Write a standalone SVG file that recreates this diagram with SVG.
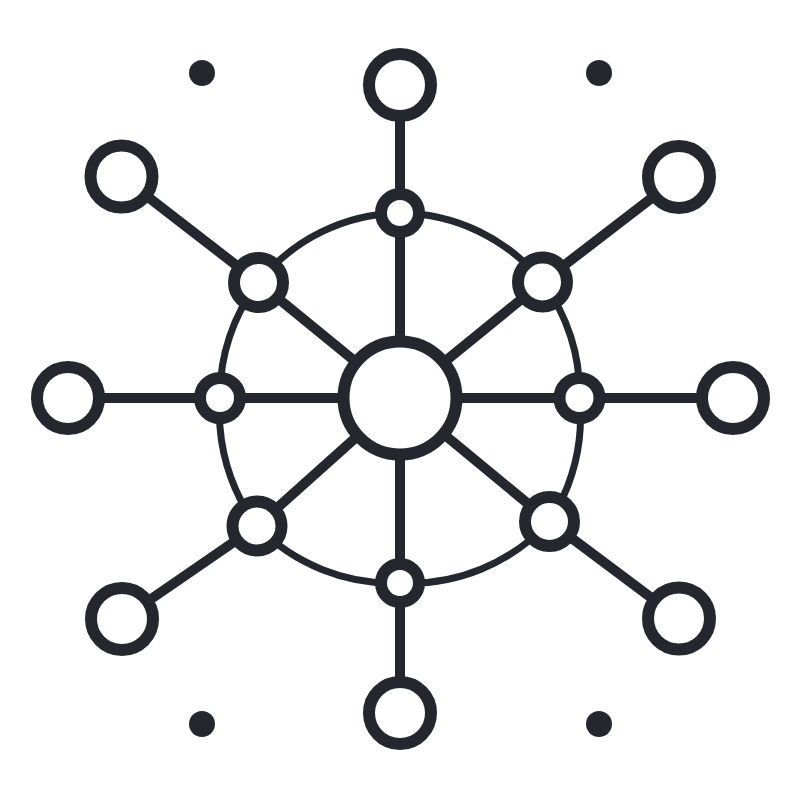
<svg xmlns="http://www.w3.org/2000/svg" width="800" height="800" viewBox="0 0 800 800">
<style>
.ln{stroke:#24272e;stroke-width:10;fill:none}
.ring{stroke:#24272e;stroke-width:7;fill:none}
.nd{fill:#fff;stroke:#24272e;stroke-width:12}
.dot{fill:#24272e}
</style>
<rect width="800" height="800" fill="#fff"/>
<g id="connectors">
<path class="ring" d="M400,213 A185,185 0 0 1 542.5,282 A185,185 0 0 1 579.5,398 A190,190 0 0 1 549.5,521.5 A190,190 0 0 1 400,583 A190,190 0 0 1 257,526 A190,190 0 0 1 220,398 A185,185 0 0 1 258.5,282.5 A185,185 0 0 1 400,213 Z"/>
<line class="ln" x1="400" y1="398" x2="400" y2="85"/>
<line class="ln" x1="400" y1="398" x2="400" y2="713"/>
<line class="ln" x1="400" y1="398" x2="68" y2="398"/>
<line class="ln" x1="400" y1="398" x2="733" y2="398"/>
<polyline class="ln" points="400,398 258.5,282.5 121.5,176.5"/>
<polyline class="ln" points="400,398 542.5,282 679,177"/>
<polyline class="ln" points="400,398 257,526 122,619"/>
<polyline class="ln" points="400,398 549.5,521.5 679,618.5"/>
</g>
<g id="center"><circle class="nd" cx="400" cy="398" r="56.5" stroke-width="13"/></g>
<g id="inner-top"><circle class="nd" cx="400" cy="213" r="19"/></g>
<g id="inner-bottom"><circle class="nd" cx="400" cy="583" r="19"/></g>
<g id="inner-left"><circle class="nd" cx="220" cy="398" r="20"/></g>
<g id="inner-right"><circle class="nd" cx="579.5" cy="398" r="20"/></g>
<g id="inner-tl"><circle class="nd" cx="258.5" cy="282.5" r="24.5"/></g>
<g id="inner-tr"><circle class="nd" cx="542.5" cy="282" r="24.5"/></g>
<g id="inner-bl"><circle class="nd" cx="257" cy="526" r="24.5"/></g>
<g id="inner-br"><circle class="nd" cx="549.5" cy="521.5" r="24.5"/></g>
<g id="outer-top"><circle class="nd" cx="400" cy="85" r="31"/></g>
<g id="outer-bottom"><circle class="nd" cx="400" cy="713" r="31"/></g>
<g id="outer-left"><circle class="nd" cx="68" cy="398" r="31"/></g>
<g id="outer-right"><circle class="nd" cx="733" cy="398" r="31"/></g>
<g id="outer-tl"><circle class="nd" cx="121.5" cy="176.5" r="31"/></g>
<g id="outer-tr"><circle class="nd" cx="679" cy="177" r="31"/></g>
<g id="outer-bl"><circle class="nd" cx="122" cy="619" r="31"/></g>
<g id="outer-br"><circle class="nd" cx="679" cy="618.5" r="31"/></g>
<g id="dots">
<circle class="dot" cx="202" cy="73" r="13"/>
<circle class="dot" cx="599" cy="73" r="13"/>
<circle class="dot" cx="202" cy="724" r="13"/>
<circle class="dot" cx="599" cy="724" r="13"/>
</g>
</svg>
